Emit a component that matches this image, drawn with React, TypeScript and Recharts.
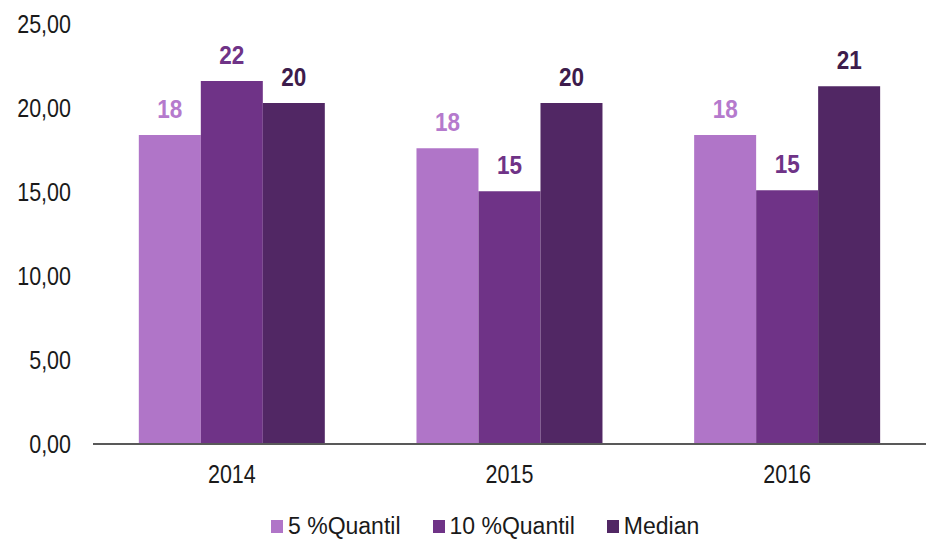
import React from 'react';
import { BarChart, Bar, XAxis, YAxis, LabelList, Legend } from 'recharts';

const years = ['2014', '2015', '2016'];
const quantil5 = [18.4, 17.6, 18.4];
const quantil10 = [21.6, 15.05, 15.1];
const median = [20.3, 20.3, 21.3];
const yTicks = [0, 5, 10, 15, 20, 25];

const data = years.map((year, i) => ({
  year,
  q5: quantil5[i],
  q10: quantil10[i],
  median: median[i],
}));

const font = '"Liberation Sans", Arial, sans-serif';

const series = [
  { key: 'q5', name: '5 %Quantil', fill: '#B075C8', label: '#B57ACD' },
  { key: 'q10', name: '10 %Quantil', fill: '#6F3387', label: '#6F3387' },
  { key: 'median', name: 'Median', fill: '#512764', label: '#3D1C4C' },
];

// Arial Narrow look: normal font squeezed horizontally
function NarrowTick(props: any) {
  const { x, y, payload, textAnchor, isY } = props;
  const txt = isY ? Number(payload.value).toFixed(2).replace('.', ',') : payload.value;
  return (
    <g transform={`translate(${x},${y})`}>
      <text
        transform="scale(0.86,1)"
        textAnchor={textAnchor}
        dy={isY ? '0.36em' : '0.75em'}
        fill="#1a1a1a"
        fontSize={25}
        fontFamily={font}
      >
        {txt}
      </text>
    </g>
  );
}

function makeLabel(color: string) {
  return (props: any) => {
    const { x, y, width, value } = props;
    const cx = Number(x) + Number(width) / 2;
    return (
      <g transform={`translate(${cx},${Number(y) - 17})`}>
        <text
          transform="scale(0.9,1)"
          textAnchor="middle"
          fill={color}
          fontSize={25}
          fontWeight="bold"
          fontFamily={font}
        >
          {Math.round(value)}
        </text>
      </g>
    );
  };
}

function LegendBox() {
  return (
    <div style={{ display: 'flex', paddingLeft: 271, gap: 32, fontFamily: font, fontSize: 23, color: '#1a1a1a', lineHeight: '26px' }}>
      {series.map((s) => (
        <div key={s.key} style={{ display: 'flex', alignItems: 'center', gap: 5 }}>
          <div style={{ width: 12, height: 13, backgroundColor: s.fill }} />
          <span>{s.name}</span>
        </div>
      ))}
    </div>
  );
}

export default function App() {
  return (
    <div style={{ position: 'absolute', left: 0, top: 0, width: 926, height: 545, background: '#fff' }}>
      <BarChart
        width={926}
        height={545}
        data={data}
        margin={{ top: 24, right: 0, bottom: 30, left: 0 }}
        barCategoryGap="16.5%"
        barGap={0}
      >
        <XAxis
          dataKey="year"
          axisLine={{ stroke: '#595959', strokeWidth: 2 }}
          tickLine={false}
          tickMargin={14}
          height={41}
          tick={<NarrowTick />}
        />
        <YAxis
          domain={[0, 25]}
          ticks={yTicks}
          width={93}
          axisLine={false}
          tickLine={false}
          tickMargin={16}
          tick={<NarrowTick isY />}
        />
        <Legend verticalAlign="bottom" height={30} wrapperStyle={{ bottom: 2 }} content={() => <LegendBox />} />
        {series.map((s) => (
          <Bar key={s.key} dataKey={s.key} name={s.name} fill={s.fill} isAnimationActive={false}>
            <LabelList dataKey={s.key} content={makeLabel(s.label)} />
          </Bar>
        ))}
      </BarChart>
    </div>
  );
}
